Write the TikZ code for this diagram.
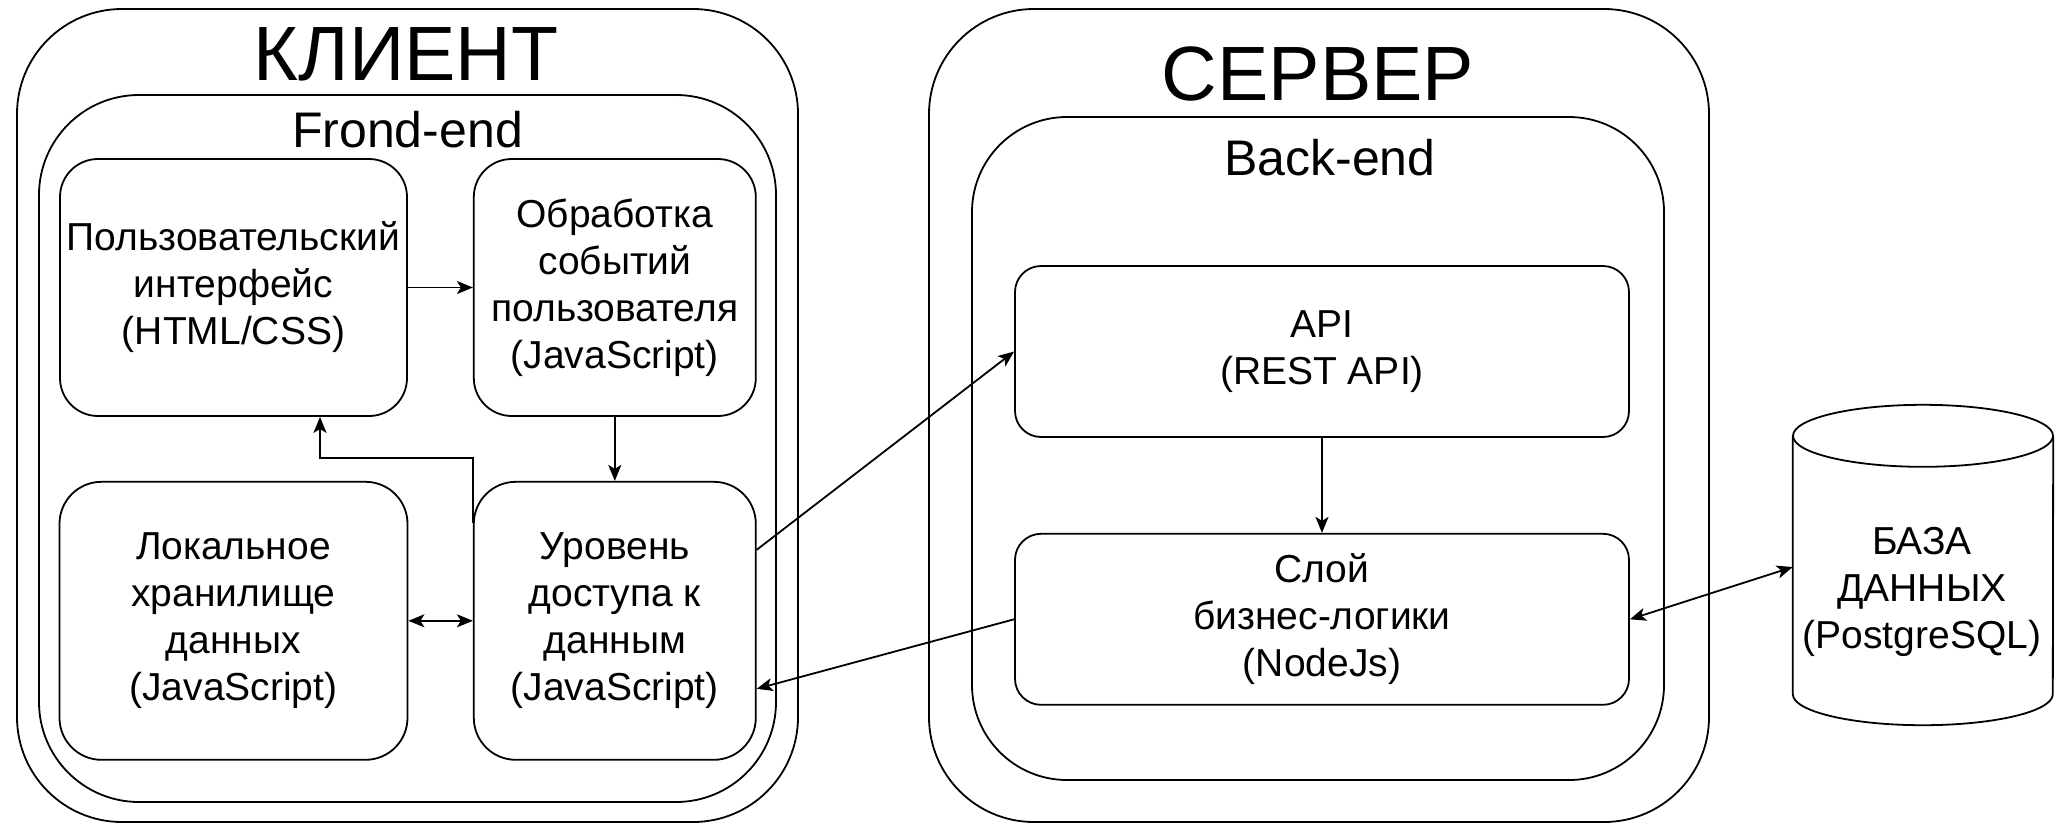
\documentclass[tikz,border=0pt]{standalone}
\usepackage{fontspec}
\setmainfont{Liberation Sans}
\usetikzlibrary{arrows.meta}
\usetikzlibrary{positioning}

\begin{document}
\begin{tikzpicture}[x=1pt, y=-1pt,
    every node/.style={inner sep=0pt},
    frame/.style={draw, line width=1.8pt},
    block/.style={frame, align=center, font=\fontsize{39}{47}\selectfont},
    heading/.style={anchor=base, font=\fontsize{77}{92}\selectfont},
    subheading/.style={anchor=base, font=\fontsize{50}{60}\selectfont},
    link/.style={line width=1.8pt, -{Stealth[length=16pt, width=13pt, inset=4pt]}},
    twoway/.style={line width=1.8pt, {Stealth[length=16pt, width=13pt, inset=4pt]}-{Stealth[length=16pt, width=13pt, inset=4pt]}}]
          \fill[white] (0,0) rectangle (2056,823);
          \useasboundingbox (0,0) rectangle (2056,823);

          % client side
          \node[frame, rounded corners=105pt, minimum width=781pt, minimum height=813pt] (client) at (407.5,415.5) {};
          \node[heading] (clientT) at (406,80) {КЛИЕНТ};
          \node[frame, rounded corners=100pt, minimum width=737pt, minimum height=707pt] (front) at (407.5,448.5) {};
          \node[subheading] (frontT) at (407.5,147) {Frond-end};

          \node[block, rounded corners=38pt, minimum width=347pt, minimum height=257pt] (ui) at (233.5,287.5) {Пользовательский\\интерфейс\\(HTML/CSS)};
          \node[block, rounded corners=38pt, minimum width=282pt, minimum height=257pt, right=65pt of ui] (events) {Обработка\\событий\\пользователя\\(JavaScript)};
          \node[block, rounded corners=42pt, minimum width=282pt, minimum height=278pt, below=64pt of events] (access) {Уровень\\доступа к\\данным\\(JavaScript)};
          \node[block, rounded corners=42pt, minimum width=348pt, minimum height=278pt, below=64pt of ui] (storage) {Локальное\\хранилище\\данных\\(JavaScript)};

          % server side
          \node[frame, rounded corners=105pt, minimum width=780pt, minimum height=813pt] (server) at (1319,415.5) {};
          \node[heading] (serverT) at (1318,100) {СЕРВЕР};
          \node[frame, rounded corners=95pt, minimum width=692pt, minimum height=663pt] (back) at (1318,448.5) {};
          \node[subheading] (backT) at (1330,175) {Back-end};

          \node[block, rounded corners=26pt, minimum width=614pt, minimum height=171pt] (api) at (1322,351.5) {API\\(REST API)};
          \node[block, rounded corners=26pt, minimum width=614pt, minimum height=171pt, below=95pt of api] (logic) {Слой\\бизнес-логики\\(NodeJs)};

          % database
          \node[minimum width=260pt, minimum height=320pt] (db) at (1923,565) {};
          \draw[frame] ([yshift=-31pt]db.north west) -- ([yshift=31pt]db.south west)
            arc[start angle=180, end angle=360, x radius=130pt, y radius=31pt] -- ([yshift=-31pt]db.north east);
          \draw[frame] ([yshift=-31pt]db.north) ellipse[x radius=130pt, y radius=31pt];
          \node[block, draw=none] (dbT) at (1922,592) {БАЗА\\ДАННЫХ\\(PostgreSQL)};

          \coordinate (turn) at (320,458);

          \draw[link] (ui) -- (events);
          \draw[link] (events) -- (access);
          \draw[twoway] (storage) -- (access);
          \draw[link] ([yshift=-42pt]access.north west) |- (turn) -- (turn |- ui.south);
          \draw[link] ([yshift=71pt]access.east) -- (api.west);
          \draw[link] (logic.west) -- ([yshift=-68pt]access.east);
          \draw[link] (api) -- (logic);
          \draw[twoway] (logic.east) -- ([yshift=-2pt]db.west);
        \end{tikzpicture}
\end{document}
